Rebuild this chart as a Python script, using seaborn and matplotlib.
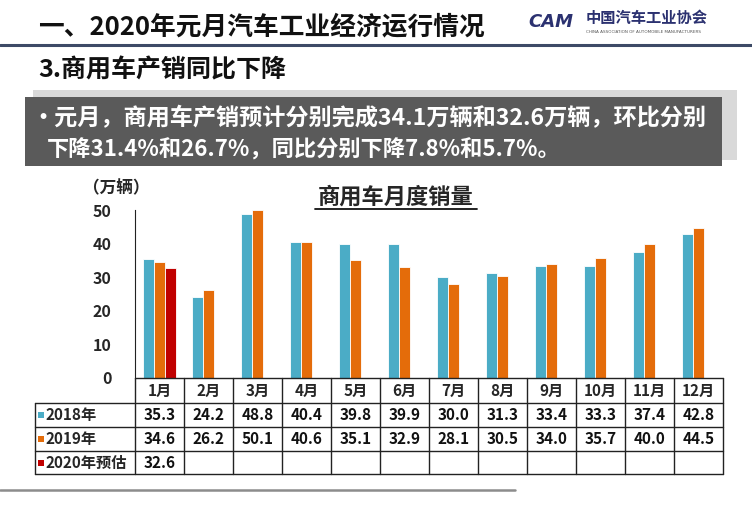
import pandas as pd
import seaborn as sns
import matplotlib.pyplot as plt
from matplotlib.lines import Line2D
from matplotlib.patches import Rectangle

# 数据
months = ['1月', '2月', '3月', '4月', '5月', '6月', '7月', '8月', '9月', '10月', '11月', '12月']
sales_2018 = [35.3, 24.2, 48.8, 40.4, 39.8, 39.9, 30.0, 31.3, 33.4, 33.3, 37.4, 42.8]
sales_2019 = [34.6, 26.2, 50.1, 40.6, 35.1, 32.9, 28.1, 30.5, 34.0, 35.7, 40.0, 44.5]
sales_2020 = [32.6, None, None, None, None, None, None, None, None, None, None, None]
series_names = ['2018年', '2019年', '2020年预估']
colors = ['#4BACC6', '#E46C0A', '#C00000']

rows = []
for name, vals in zip(series_names, [sales_2018, sales_2019, sales_2020]):
    for m, v in zip(months, vals):
        rows.append({'月份': m, '系列': name, '销量': v})
df = pd.DataFrame(rows)

sns.set_style('white')
plt.rcParams['font.family'] = ['Noto Sans CJK SC', 'DejaVu Sans']
plt.rcParams['axes.unicode_minus'] = False

W, H = 752, 521
fig = plt.figure(figsize=(W / 100, H / 100), dpi=100)


def fx(px):
    return px / W


def fy(py):
    return 1 - py / H


def hline(x0, x1, y, color='#222222', lw=1.0):
    fig.add_artist(Line2D([fx(x0), fx(x1)], [fy(y), fy(y)], transform=fig.transFigure, color=color, lw=lw))


def vline(x, y0, y1, color='#222222', lw=1.0):
    fig.add_artist(Line2D([fx(x), fx(x)], [fy(y0), fy(y1)], transform=fig.transFigure, color=color, lw=lw))


# 绘图区
ax_l, ax_r, ax_t, ax_b = 135, 723, 210, 378
ax = fig.add_axes([fx(ax_l), fy(ax_b), (ax_r - ax_l) / W, (ax_b - ax_t) / H])
sns.barplot(data=df, x='月份', y='销量', hue='系列', hue_order=series_names, order=months,
            palette=colors, saturation=1, width=0.68, gap=0, edgecolor='white', linewidth=0.6,
            legend=False, ax=ax)
ax.set_ylim(0, 50)
ax.set_xlim(-0.5, 11.5)
ax.set_yticks(range(0, 51, 10))
ax.set_xticks([])
ax.set_xlabel('')
ax.set_ylabel('')
for lab in ax.get_yticklabels():
    lab.set_fontweight('bold')
    lab.set_fontsize(11.5)
ax.tick_params(axis='y', direction='out', length=4, width=1, color='#222222', pad=13)
sns.despine(ax=ax, top=True, right=True, bottom=True)
ax.spines['left'].set_color('#222222')

# 标题
fig.text(fx(396), fy(197), '商用车月度销量', ha='center', va='center', fontsize=16, fontweight='bold')
hline(315, 477, 209, color='#111111', lw=1.3)
fig.text(fx(116), fy(188), '（万辆）', ha='center', va='center', fontsize=12, fontweight='bold')

# 数据表
col_w = (ax_r - ax_l) / 12
row_y = [378, 403, 427, 451, 474]
hline(ax_l, ax_r, 378)
for y in row_y[1:]:
    hline(35, ax_r, y)
vline(35, 403, 474)
for i in range(13):
    vline(ax_l + i * col_w, 378, 474)

for i, m in enumerate(months):
    fig.text(fx(ax_l + (i + 0.5) * col_w), fy(391), m, ha='center', va='center',
             fontsize=11, fontweight='bold')

for r, (name, vals, c) in enumerate(zip(series_names, [sales_2018, sales_2019, sales_2020], colors)):
    yc = (row_y[r + 1] + row_y[r + 2]) / 2
    fig.add_artist(Rectangle((fx(38), fy(yc + 3)), 6 / W, 6 / H, transform=fig.transFigure,
                             facecolor=c, edgecolor='none'))
    fig.text(fx(45), fy(yc), name, ha='left', va='center', fontsize=11, fontweight='bold')
    for i, v in enumerate(vals):
        if v is not None:
            fig.text(fx(ax_l + (i + 0.5) * col_w), fy(yc), f'{v:.1f}', ha='center', va='center',
                     fontsize=11, fontweight='bold', color='#111111')

# 页眉
fig.text(fx(38), fy(27), '一、2020年元月汽车工业经济运行情况', ha='left', va='center',
         fontsize=18.5, fontweight='bold', color='#111111')
hline(0, 752, 45, color='#3d4a66', lw=2.2)
fig.text(fx(38), fy(70), '3.商用车产销同比下降', ha='left', va='center',
         fontsize=18, fontweight='bold', color='#111111')

# 标志
fig.text(fx(528), fy(22), 'CAM', ha='left', va='center', fontsize=13, fontweight='bold',
         fontstyle='italic', color='#2b3170', family='DejaVu Sans')
fig.text(fx(586), fy(18), '中国汽车工业协会', ha='left', va='center', fontsize=11,
         fontweight='bold', color='#2b3170')
fig.text(fx(586), fy(32), 'CHINA ASSOCIATION OF AUTOMOBILE MANUFACTURERS', ha='left', va='center',
         fontsize=3, color='#555555', family='DejaVu Sans')

# 灰色说明框
fig.add_artist(Rectangle((fx(33), fy(160)), (737 - 33) / W, (160 - 90) / H, transform=fig.transFigure,
                         facecolor='#d9d9d9', edgecolor='none'))
fig.add_artist(Rectangle((fx(25), fy(166)), (722 - 25) / W, (166 - 97) / H, transform=fig.transFigure,
                         facecolor='#5a5a5a', edgecolor='none'))
fig.text(fx(31), fy(119), '•元月，商用车产销预计分别完成34.1万辆和32.6万辆，环比分别',
         ha='left', va='center', fontsize=16.7, fontweight='bold', color='white')
fig.text(fx(47), fy(150), '下降31.4%和26.7%，同比分别下降7.8%和5.7%。',
         ha='left', va='center', fontsize=16, fontweight='bold', color='white')

# 底部线
hline(0, 515, 490, color='#8c8c8c', lw=1.8)

fig.savefig('out.png', dpi=100)
